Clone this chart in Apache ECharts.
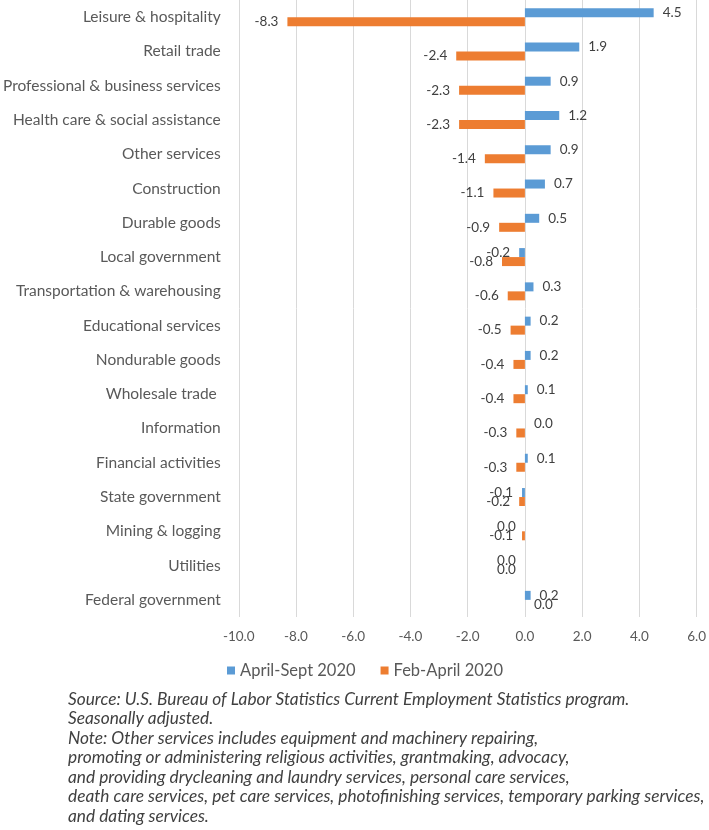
<!DOCTYPE html>
<html><head><meta charset="utf-8">
<script src="https://cdn.jsdelivr.net/npm/echarts@6/dist/echarts.min.js"></script>
<style>html,body{margin:0;padding:0;background:#fff}#c{width:709px;height:830px}</style>
</head><body><div id="c"></div>
<script>
const categories = ["Leisure & hospitality","Retail trade","Professional & business services","Health care & social assistance","Other services","Construction","Durable goods","Local government","Transportation & warehousing","Educational services","Nondurable goods","Wholesale trade ","Information","Financial activities","State government","Mining & logging","Utilities","Federal government"];
const aprSept = [4.5,1.9,0.9,1.2,0.9,0.7,0.5,-0.2,0.3,0.2,0.2,0.1,0.0,0.1,-0.1,0.0,0.0,0.2];
const febApr = [-8.3,-2.4,-2.3,-2.3,-1.4,-1.1,-0.9,-0.8,-0.6,-0.5,-0.4,-0.4,-0.3,-0.3,-0.2,-0.1,0.0,0.0];
const seriesNames = ["April-Sept 2020","Feb-April 2020"];
const xTicks = {min:-10, max:6, interval:2};
const noteLines = [
 "Source: U.S. Bureau of Labor Statistics Current Employment Statistics program.",
 "Seasonally adjusted.",
 "Note: Other services includes equipment and machinery repairing,",
 "promoting or administering religious activities, grantmaking, advocacy,",
 "and providing drycleaning and laundry services, personal care services,",
 "death care services, pet care services, photofinishing services, temporary parking services,",
 "and dating services."
];
// zero-valued labels drawn on the right side in the reference: [seriesIndex, categoryIndex]
const zeroRight = [[0,12],[1,17]];

const FONT = 'Lato';
function mk(vals, si){
  return vals.map((v,i)=>{
    const right = v>0 || zeroRight.some(z=>z[0]===si&&z[1]===i);
    return {value:v, label:{position: right?'right':'left'}};
  });
}
const colors = ['#5B9BD5','#ED7D31'];
const chart = echarts.init(document.getElementById('c'));
chart.setOption({
  animation:false,
  textStyle:{fontFamily:FONT},
  grid:{left:236,right:10,top:0,bottom:213,containLabel:false},
  legend:{
    data:seriesNames, top:657, left:222, itemWidth:8, itemHeight:8, itemGap:25,
    icon:'rect', textStyle:{fontFamily:FONT,fontSize:16.5,color:'#595959'}
  },
  xAxis:{type:'value',min:xTicks.min,max:xTicks.max,interval:xTicks.interval,
    axisLine:{show:false},axisTick:{show:false},
    splitLine:{lineStyle:{color:'#d9d9d9'}},
    axisLabel:{formatter:v=>v.toFixed(1),color:'#595959',fontSize:13.5,margin:13,fontFamily:FONT}},
  yAxis:{type:'category',data:categories,inverse:true,
    axisLine:{show:false},axisTick:{show:false},
    axisLabel:{color:'#595959',fontSize:15.5,margin:18,fontFamily:FONT}},
  series:seriesNames.map((n,si)=>({
    name:n,type:'bar',data:mk(si===0?aprSept:febApr,si),
    barWidth:9,barGap:'0%',itemStyle:{color:colors[si]},
    label:{show:true,formatter:p=>p.value.toFixed(1),color:'#404040',fontSize:13.5,distance:9,fontFamily:FONT}
  })),
  graphic:noteLines.map((t,i)=>({type:'text',x:68,y:699+i*19.5,
    style:{text:t,fontFamily:FONT,fontStyle:'italic',fontSize:17.3,fill:'#404040',verticalAlign:'middle'}}))
});
</script></body></html>
